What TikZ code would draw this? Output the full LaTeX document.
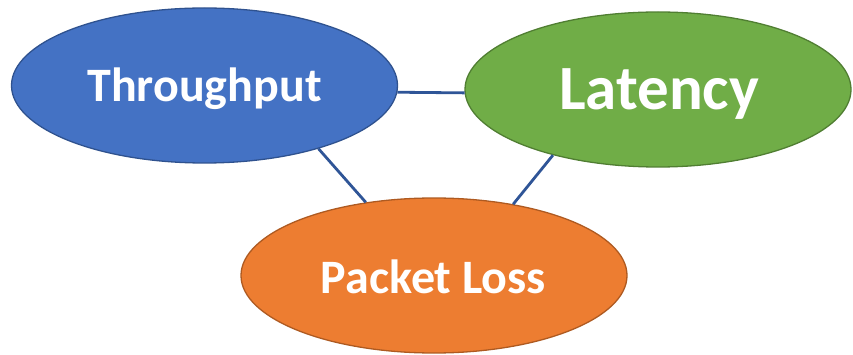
\documentclass[tikz,border=0pt]{standalone}
\usepackage{fontspec}
\setmainfont{Carlito}
\usetikzlibrary{shapes.geometric}
\definecolor{tpfill}{HTML}{4472C4}
\definecolor{tpline}{HTML}{2F528F}
\definecolor{latfill}{HTML}{70AD47}
\definecolor{latline}{HTML}{507E32}
\definecolor{plfill}{HTML}{ED7D31}
\definecolor{plline}{HTML}{AE5A21}
\definecolor{linkblue}{HTML}{2F5597}
\begin{document}
\begin{tikzpicture}[x=1pt,y=-1pt,
  bubble/.style={ellipse, line width=1.3pt, inner sep=0pt, minimum width=386pt, minimum height=155pt},
  caption/.style={text=white, anchor=base, inner sep=0pt},
  link/.style={draw=linkblue, line width=2.8pt}]
\useasboundingbox (0,0) rectangle (853,355);
% the three bubbles
\node[bubble, fill=tpfill, draw=tpline] (tp) at (204.5,85.5) {};
\node[bubble, fill=latfill, draw=latline] (lat) at (658,89.5) {};
\node[bubble, fill=plfill, draw=plline] (pl) at (434,275.5) {};
% connectors between the bubbles
\draw[link] (tp.-2.8) -- (lat.181.6);
\draw[link] (tp.-29.6) -- (pl.133.6);
\draw[link] (lat.212.7) -- (pl.42.9);
% captions
\node[caption, font=\fontsize{48}{52}\bfseries] (tptext) at (204.5,102) {Throughput};
\node[caption, font=\fontsize{63}{68}\bfseries] (lattext) at (659,110) {Latency};
\node[caption, font=\fontsize{48}{52}\bfseries] (pltext) at (433.5,293) {Packet Loss};
\end{tikzpicture}
\end{document}
